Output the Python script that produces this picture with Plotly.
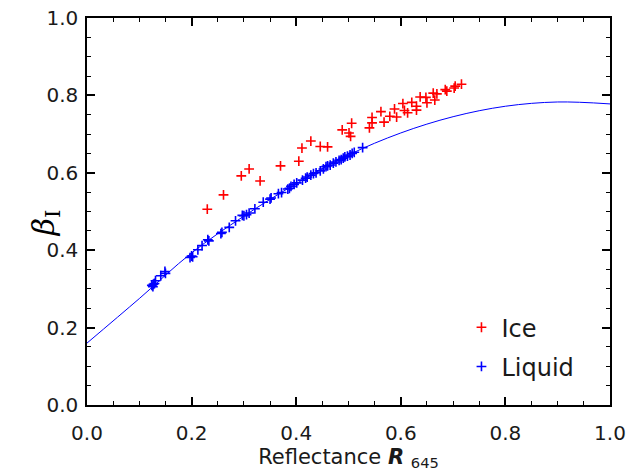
import plotly.graph_objects as go

# Fitted curve
curve_r = [0.0, 0.1, 0.2, 0.3, 0.4, 0.5, 0.6, 0.7, 0.8, 0.9, 1.0]
curve_beta = [0.160, 0.275, 0.393, 0.488, 0.572, 0.646, 0.703, 0.745, 0.772, 0.783, 0.778]

# Ice points
ice_r = [0.230, 0.261, 0.295, 0.310, 0.331, 0.370, 0.405, 0.411, 0.428, 0.446,
         0.460, 0.488, 0.506, 0.501, 0.504, 0.540, 0.545, 0.545, 0.562, 0.568,
         0.579, 0.592, 0.588, 0.604, 0.607, 0.613, 0.621, 0.630, 0.630, 0.637,
         0.648, 0.650, 0.662, 0.669, 0.665, 0.685, 0.688, 0.702, 0.704, 0.716]
ice_beta = [0.506, 0.543, 0.592, 0.610, 0.579, 0.618, 0.630, 0.664, 0.682, 0.668,
            0.667, 0.711, 0.728, 0.703, 0.694, 0.716, 0.729, 0.743, 0.758, 0.731,
            0.746, 0.744, 0.765, 0.779, 0.761, 0.755, 0.782, 0.772, 0.762, 0.796,
            0.795, 0.781, 0.806, 0.804, 0.788, 0.815, 0.811, 0.819, 0.824, 0.829]

# Liquid points
liq_r = [0.124, 0.126, 0.127, 0.129, 0.131, 0.141, 0.149, 0.150, 0.197, 0.200,
         0.202, 0.212, 0.220, 0.231, 0.233, 0.256, 0.258, 0.272, 0.284, 0.297,
         0.300, 0.305, 0.310, 0.321, 0.337, 0.350, 0.352, 0.366, 0.372, 0.384,
         0.387, 0.390, 0.396, 0.401, 0.412, 0.418, 0.421, 0.428, 0.433, 0.438,
         0.446, 0.452, 0.457, 0.460, 0.465, 0.471, 0.476, 0.482, 0.486, 0.490,
         0.493, 0.498, 0.503, 0.507, 0.511, 0.527]
liq_beta = [0.309, 0.306, 0.312, 0.314, 0.321, 0.334, 0.345, 0.340, 0.381, 0.385,
            0.383, 0.401, 0.412, 0.427, 0.424, 0.443, 0.446, 0.459, 0.476, 0.490,
            0.489, 0.492, 0.496, 0.507, 0.524, 0.532, 0.535, 0.546, 0.549, 0.558,
            0.560, 0.565, 0.570, 0.574, 0.581, 0.586, 0.589, 0.594, 0.598, 0.600,
            0.605, 0.610, 0.616, 0.618, 0.620, 0.625, 0.628, 0.632, 0.634, 0.638,
            0.641, 0.643, 0.646, 0.650, 0.653, 0.665]

FONT = "DejaVu Sans"
TXT = "#1a1a1a"

fig = go.Figure()
fig.add_trace(go.Scatter(x=curve_r, y=curve_beta, mode="lines",
                         line=dict(color="#0000ff", width=1, shape="spline"),
                         showlegend=False, hoverinfo="skip"))
fig.add_trace(go.Scatter(x=ice_r, y=ice_beta, mode="markers", name="Ice",
                         legendgroup="ice",
                         marker=dict(symbol="cross-thin", size=7, color="#ff0000",
                                     line=dict(color="#ff0000", width=1.6))))
fig.add_trace(go.Scatter(x=liq_r, y=liq_beta, mode="markers", name="Liquid",
                         legendgroup="liq",
                         marker=dict(symbol="cross-thin", size=7, color="#0000ff",
                                     line=dict(color="#0000ff", width=1.6))))

axis_common = dict(showgrid=False, zeroline=False, showline=True, linecolor="black",
                   linewidth=1.5, mirror="allticks", ticks="inside", ticklen=8,
                   tickwidth=1.5, tickcolor="black", automargin=False,
                   tickfont=dict(family=FONT, size=20, color=TXT),
                   minor=dict(dtick=0.05, ticks="inside", ticklen=4, tickwidth=1.2,
                              tickcolor="black", showgrid=False))

fig.update_xaxes(range=[0, 1], dtick=0.2, tickformat=".1f", ticklabelstandoff=9,
                 title=dict(text="Reflectance <i><b>R</b></i> <sub>645</sub>",
                            font=dict(family=FONT, size=21, color=TXT),
                            standoff=6),
                 **axis_common)
fig.update_yaxes(range=[0, 1], dtick=0.2, tickformat=".1f", ticklabelstandoff=3,
                 **axis_common)

fig.update_layout(
    width=629, height=471,
    margin=dict(l=87, r=19, t=18, b=66),
    paper_bgcolor="white", plot_bgcolor="white",
    showlegend=True,
    legend=dict(x=0.716, y=0.258, xanchor="left", yanchor="top",
                bgcolor="rgba(0,0,0,0)", borderwidth=0,
                font=dict(family=FONT, size=24, color=TXT),
                tracegroupgap=5, traceorder="grouped"),
    annotations=[dict(text="<i>β</i><sub>I</sub>", xref="paper", yref="paper",
                      x=-0.08, y=0.47, xanchor="center", yanchor="middle",
                      textangle=-90, showarrow=False,
                      font=dict(family="DejaVu Serif", size=30, color="black"))],
)

fig.write_html("out.html")
